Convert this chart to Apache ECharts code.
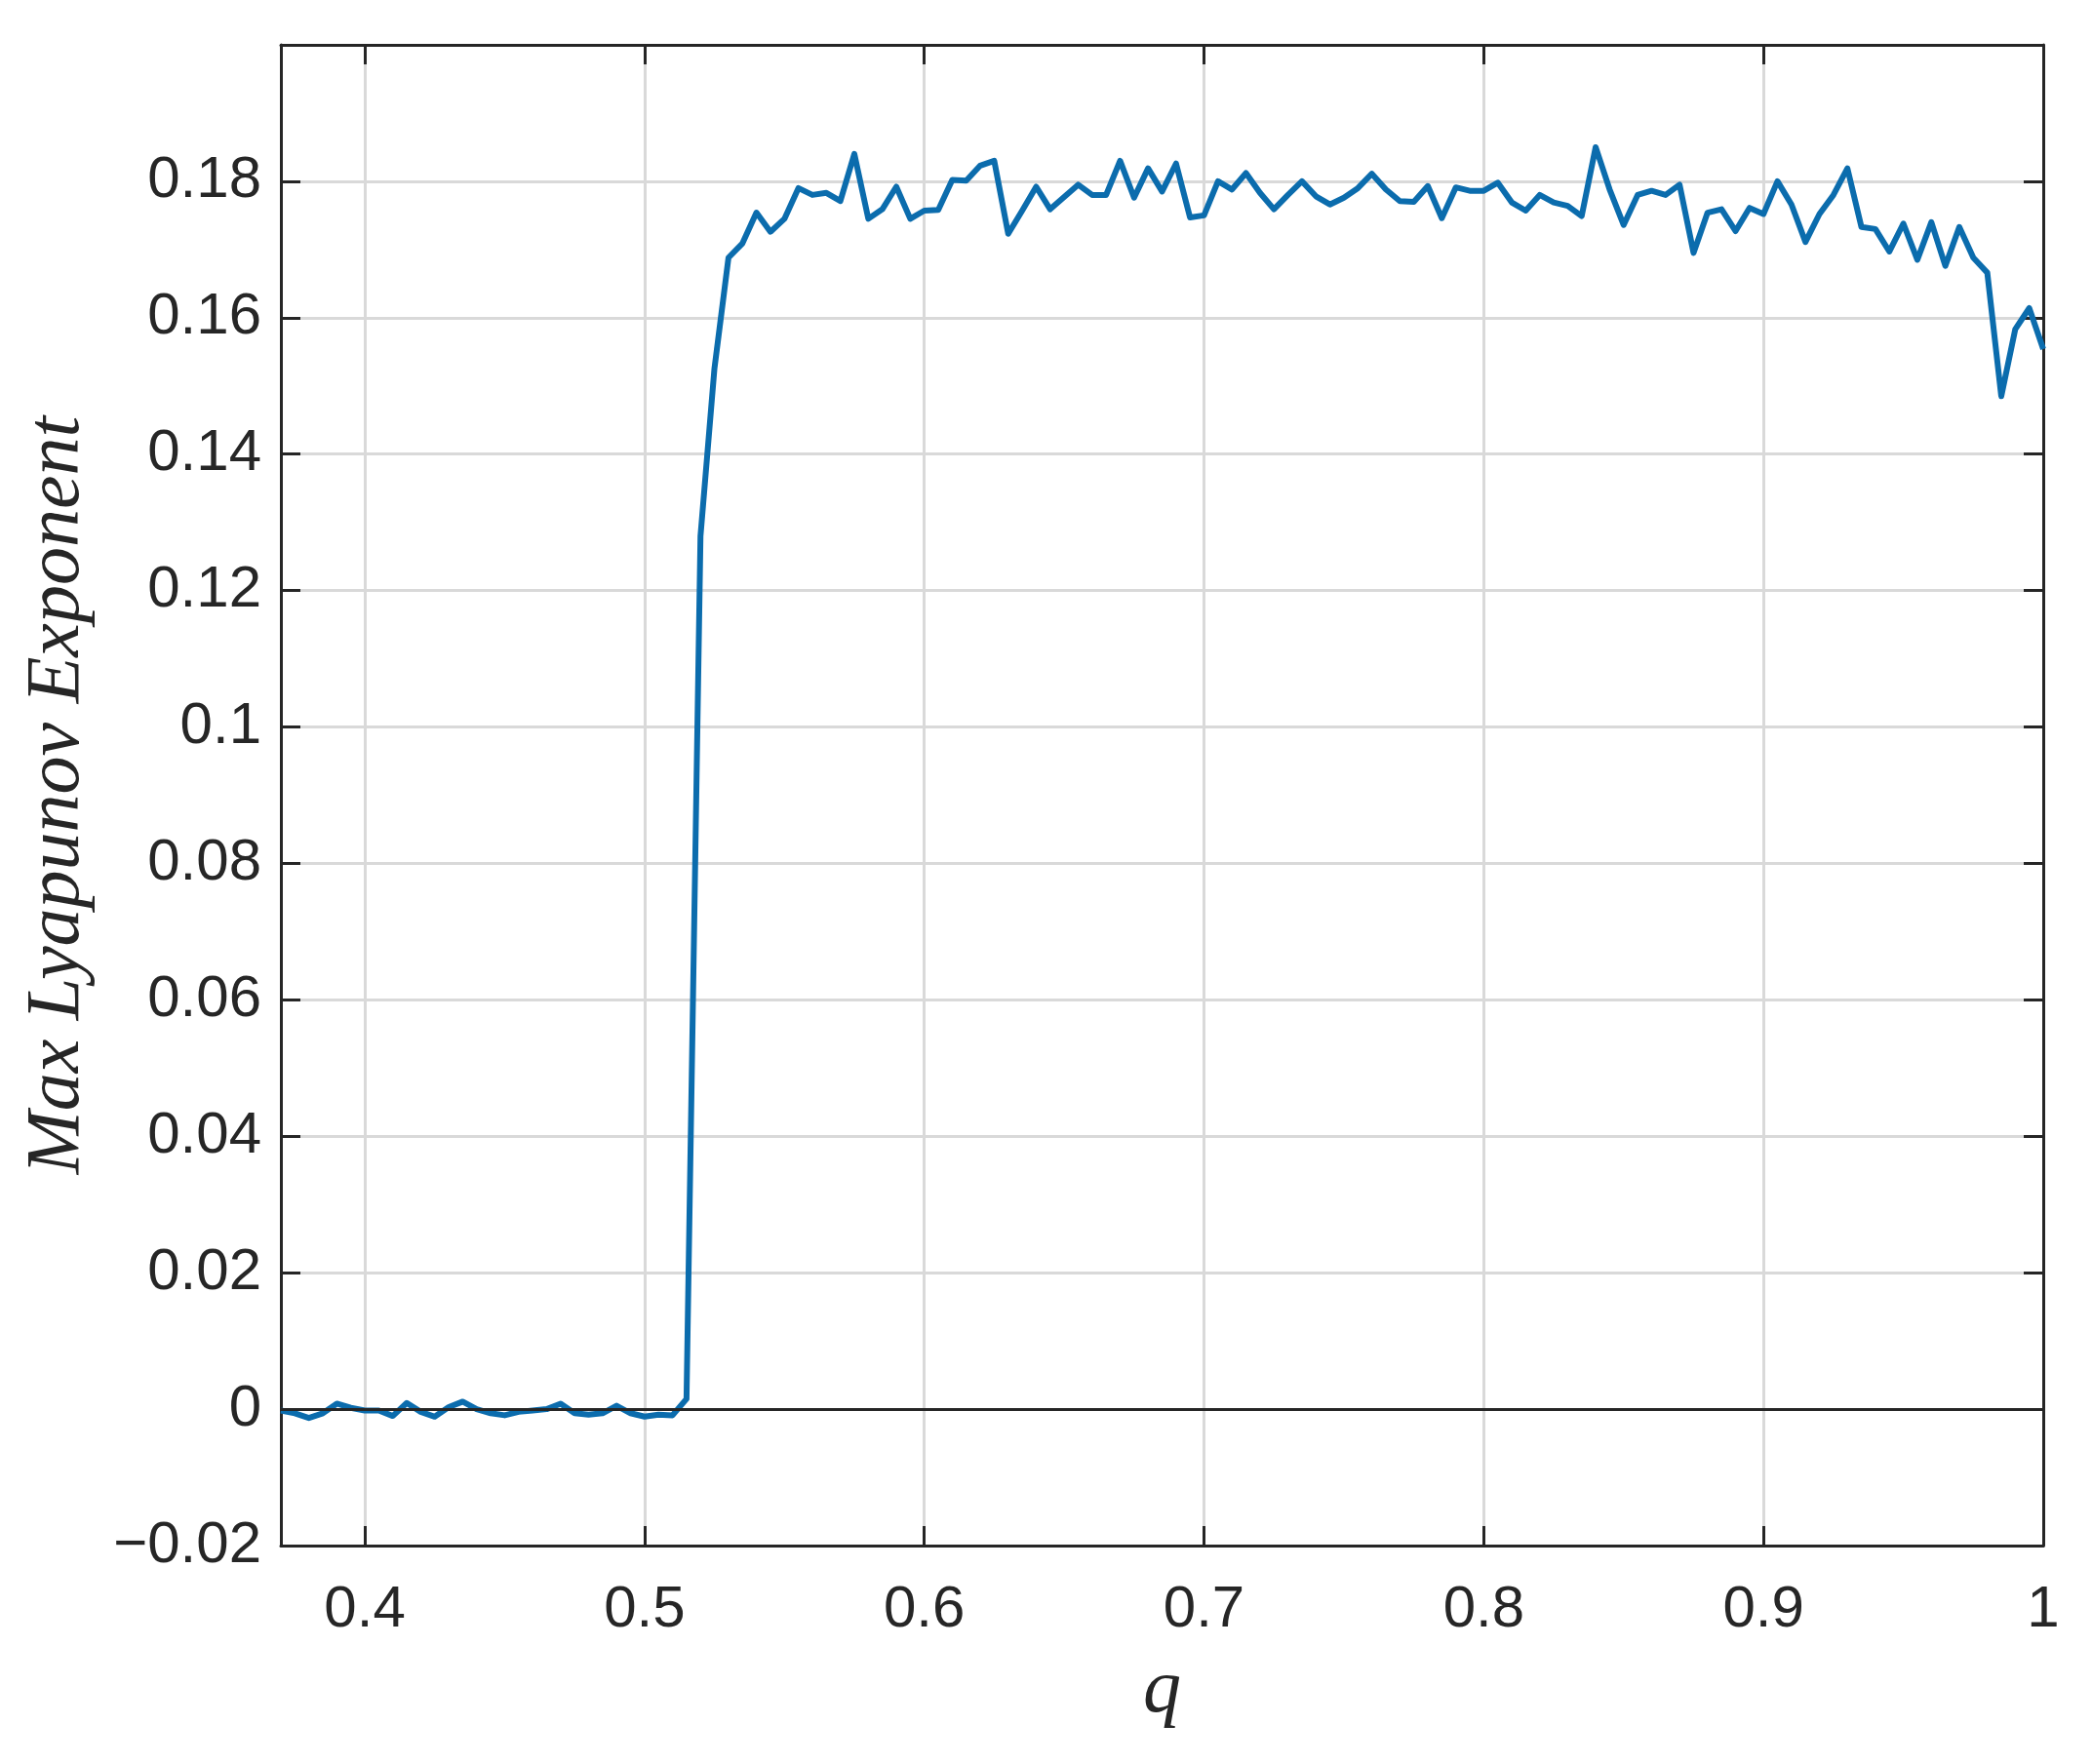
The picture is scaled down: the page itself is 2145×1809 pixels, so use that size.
<!DOCTYPE html>
<html>
<head>
<meta charset="utf-8">
<script src="https://cdn.jsdelivr.net/npm/echarts@6/dist/echarts.min.js"></script>
<style>
html,body{margin:0;padding:0;background:#ffffff;}
#chart{width:2145px;height:1809px;}
</style>
</head>
<body>
<div id="chart"></div>
<script>
// ---- data ----
const qValues = [
  0.37,0.375,0.38,0.385,0.39,0.395,0.4,0.405,0.41,0.415,
  0.42,0.425,0.43,0.435,0.44,0.445,0.45,0.455,0.46,0.465,
  0.47,0.475,0.48,0.485,0.49,0.495,0.5,0.505,0.51,0.515,
  0.52,0.525,0.53,0.535,0.54,0.545,0.55,0.555,0.56,0.565,
  0.57,0.575,0.58,0.585,0.59,0.595,0.6,0.605,0.61,0.615,
  0.62,0.625,0.63,0.635,0.64,0.645,0.65,0.655,0.66,0.665,
  0.67,0.675,0.68,0.685,0.69,0.695,0.7,0.705,0.71,0.715,
  0.72,0.725,0.73,0.735,0.74,0.745,0.75,0.755,0.76,0.765,
  0.77,0.775,0.78,0.785,0.79,0.795,0.8,0.805,0.81,0.815,
  0.82,0.825,0.83,0.835,0.84,0.845,0.85,0.855,0.86,0.865,
  0.87,0.875,0.88,0.885,0.89,0.895,0.9,0.905,0.91,0.915,
  0.92,0.925,0.93,0.935,0.94,0.945,0.95,0.955,0.96,0.965,
  0.97,0.975,0.98,0.985,0.99,0.995,1.0
];
const lyapunovValues = [
  -0.0002,-0.0006,-0.0013,-0.0006,0.0008,0.0002,-0.0002,-0.0002,-0.0010,0.0009,
  -0.0004,-0.0011,0.0003,0.0011,0.0000,-0.0006,-0.0009,-0.0004,-0.0002,0.0000,
  0.0008,-0.0006,-0.0008,-0.0006,0.0005,-0.0006,-0.0011,-0.0008,-0.0009,0.0015,
  0.1280,0.1526,0.1688,0.1709,0.1754,0.1726,0.1745,0.1790,0.1780,0.1783,
  0.1771,0.1840,0.1745,0.1759,0.1792,0.1745,0.1757,0.1758,0.1802,0.1801,
  0.1823,0.1830,0.1723,0.1757,0.1792,0.1759,0.1777,0.1795,0.1780,0.1780,
  0.1830,0.1776,0.1819,0.1785,0.1826,0.1747,0.1750,0.1800,0.1788,0.1812,
  0.1783,0.1759,0.1780,0.1800,0.1778,0.1766,0.1776,0.1790,0.1811,0.1788,
  0.1771,0.1770,0.1793,0.1746,0.1791,0.1786,0.1786,0.1798,0.1769,0.1757,
  0.1780,0.1769,0.1764,0.1749,0.1850,0.1788,0.1736,0.1780,0.1786,0.1780,
  0.1795,0.1695,0.1754,0.1759,0.1727,0.1761,0.1752,0.1800,0.1766,0.1711,
  0.1752,0.1780,0.1819,0.1733,0.1730,0.1697,0.1738,0.1685,0.1740,0.1676,
  0.1733,0.1688,0.1666,0.1485,0.1583,0.1614,0.1554
];
const xRange = [0.37, 1];
const yRange = [-0.02, 0.2];
const yStep = 0.02;
const xTitle = 'q';
const yTitle = 'Max Lyapunov Exponent';
const referenceLevel = 0;

// ---- chart ----
const dark = '#262626';
const gridColor = '#d9d9d9';
function fmt(v) {
  const s = String(Math.round(v * 1e6) / 1e6);
  return s.replace('-', '\u2212');
}
const seriesData = qValues.map((q, i) => [q, lyapunovValues[i]]);

const tickStyle = {show: true, inside: true, length: 20, lineStyle: {color: dark, width: 3}};
const lineStyleAxis = {show: true, onZero: false, lineStyle: {color: dark, width: 3}};
const labelFont = {fontFamily: 'Liberation Sans, Arial, sans-serif', fontSize: 60, color: dark};
const titleFont = {fontFamily: 'Liberation Serif, Times New Roman, serif', fontStyle: 'italic', fontSize: 78, color: dark};

const chart = echarts.init(document.getElementById('chart'), null, {renderer: 'canvas'});
chart.setOption({
  backgroundColor: '#ffffff',
  animation: false,
  grid: {left: 288, right: 50, top: 46, bottom: 224, containLabel: false},
  xAxis: [
    {
      type: 'value', position: 'bottom', min: xRange[0], max: xRange[1], splitNumber: 6,
      axisLine: lineStyleAxis, axisTick: tickStyle,
      axisLabel: Object.assign({show: true, showMinLabel: false, margin: 36, formatter: fmt}, labelFont),
      splitLine: {show: true, lineStyle: {color: gridColor, width: 3}},
      name: xTitle, nameLocation: 'middle', nameGap: 110, nameTextStyle: titleFont
    },
    {
      type: 'value', position: 'top', min: xRange[0], max: xRange[1], splitNumber: 6,
      axisLine: lineStyleAxis, axisTick: tickStyle,
      axisLabel: {show: false}, splitLine: {show: false}
    }
  ],
  yAxis: [
    {
      type: 'value', position: 'left', min: yRange[0], max: yRange[1], interval: yStep,
      axisLine: lineStyleAxis, axisTick: tickStyle,
      axisLabel: Object.assign({show: true, showMaxLabel: false, margin: 20, formatter: fmt}, labelFont),
      splitLine: {show: true, lineStyle: {color: gridColor, width: 3}},
      name: yTitle, nameLocation: 'middle', nameRotate: 90, nameGap: 190, nameTextStyle: titleFont
    },
    {
      type: 'value', position: 'right', min: yRange[0], max: yRange[1], interval: yStep,
      axisLine: lineStyleAxis, axisTick: tickStyle,
      axisLabel: {show: false}, splitLine: {show: false}
    }
  ],
  series: [
    {
      type: 'line', xAxisIndex: 0, yAxisIndex: 0, data: seriesData,
      showSymbol: false, symbol: 'none', smooth: false, clip: true,
      lineStyle: {color: '#0b6cad', width: 6, join: 'round'},
      z: 2,
      markLine: {
        silent: true, symbol: 'none', label: {show: false},
        lineStyle: {color: dark, width: 3, type: 'solid'},
        data: [{yAxis: referenceLevel}],
        z: 5
      }
    }
  ]
});
</script>
</body>
</html>
